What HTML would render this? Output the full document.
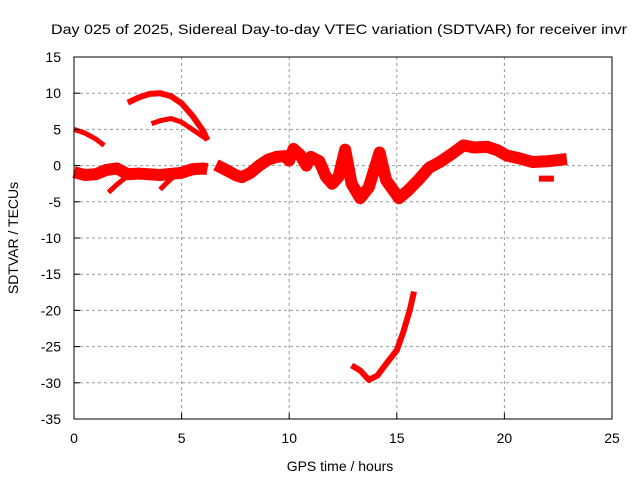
<!DOCTYPE html>
<html><head><meta charset="utf-8"><style>
body{margin:0;background:#fff}
svg{font-family:"Liberation Sans",sans-serif;font-size:14px}
</style></head><body>
<svg width="640" height="480" xmlns="http://www.w3.org/2000/svg">
<rect width="640" height="480" fill="#fff"/>
<g id="grid"></g>
<g id="series"></g>
<rect x="74" y="57" width="538" height="362" fill="none" stroke="#000" stroke-width="1"/>
<g id="ticks"></g>
<text x="51" y="34" textLength="576" lengthAdjust="spacingAndGlyphs">Day 025 of 2025, Sidereal Day-to-day VTEC variation (SDTVAR) for receiver invr</text>
<text x="340" y="471" text-anchor="middle">GPS time / hours</text>
<text transform="translate(18,238) rotate(-90)" text-anchor="middle">SDTVAR / TECUs</text>
</svg>
<script>
const xTicks=[0,5,10,15,20,25];
const yTicks=[15,10,5,0,-5,-10,-15,-20,-25,-30,-35];
const segA_t=[0,0.5,1,1.4];const segA_v=[5.0,4.5,3.7,2.8];
const segB_t=[2.5,3,3.5,4,4.5,5,5.5,6,6.2];const segB_v=[8.7,9.4,9.9,10,9.6,8.6,6.9,4.8,3.5];
const segC_t=[3.6,4,4.5,5,5.5,6,6.2];const segC_v=[5.8,6.2,6.5,6.0,5.0,4.0,3.6];
const main1_t=[0,0.5,1,1.5,2,2.5,3,4,5,5.5,6,6.2];const main1_v=[-0.9,-1.3,-1.2,-0.6,-0.4,-1.2,-1.1,-1.3,-1.0,-0.5,-0.4,-0.5];
const main2_t=[6.6,7,7.5,7.8,8.2,8.6,9,9.4,9.8,10,10.2,10.5,10.8,11,11.4,11.7,12,12.3,12.6,12.9,13.3,13.7,14.2,14.5,15.1,15.5,16,16.5,17,17.5,18.1,18.6,19.2,19.7,20.1,20.7,21.3,22,22.9];
const main2_v=[0.1,-0.5,-1.3,-1.6,-1.0,0,0.8,1.2,1.3,0.7,2.3,1.5,0,1.2,0.6,-1.5,-2.5,-1.5,2.2,-2.5,-4.5,-3,1.8,-2,-4.5,-3.5,-2,-0.3,0.5,1.5,2.8,2.5,2.6,2.1,1.4,1.0,0.5,0.6,0.9];
const segE_t=[1.6,2,2.5];const segE_v=[-3.7,-2.6,-1.4];
const segF_t=[4,4.3,4.6];const segF_v=[-3.3,-2.4,-1.6];
const segH_t=[21.6,22.3];const segH_v=[-1.8,-1.8];
const segG_t=[12.9,13.3,13.7,14.1,14.5,15,15.3,15.6,15.8];const segG_v=[-27.6,-28.3,-29.6,-29,-27.4,-25.5,-23,-20,-17.4];
const X=t=>74+t*538/25, Y=v=>57+(15-v)*362/50;
const NS="http://www.w3.org/2000/svg";
function mk(tag,attrs,parent){const e=document.createElementNS(NS,tag);for(const k in attrs)e.setAttribute(k,attrs[k]);parent.appendChild(e);return e;}
const grid=document.getElementById('grid'),ticks=document.getElementById('ticks'),ser=document.getElementById('series');
xTicks.forEach(t=>{
 if(t>0&&t<25){const l=mk('line',{x1:X(t),x2:X(t),y1:57,y2:419,stroke:'#999','stroke-dasharray':'3,3'},grid);
 
 }
 const tx=mk('text',{x:X(t),y:443,'text-anchor':'middle'},ticks);tx.textContent=t;
 
 
 mk('line',{x1:X(t),x2:X(t),y1:419,y2:413,stroke:'#000'},ticks);
});
yTicks.forEach(v=>{
 if(v<15&&v>-35){const l=mk('line',{x1:74,x2:612,y1:Y(v),y2:Y(v),stroke:'#999','stroke-dasharray':'3,3'},grid);
 
 }
 const tx=mk('text',{x:61,y:Y(v)+5,'text-anchor':'end'},ticks);tx.textContent=v;
 
 
 mk('line',{x1:74,x2:80,y1:Y(v),y2:Y(v),stroke:'#000'},ticks);
});
const segs=[[segA_t,segA_v,5,'segment-early-high'],[segB_t,segB_v,6,'segment-arc-upper'],[segC_t,segC_v,5,'segment-arc-lower'],[main1_t,main1_v,12,'segment-main-early'],[main2_t,main2_v,12,'segment-main'],[segE_t,segE_v,5,'segment-branch-1'],[segF_t,segF_v,5,'segment-branch-2'],[segH_t,segH_v,6,'segment-offset'],[segG_t,segG_v,6,'segment-negative']];
segs.forEach(s=>{
 const pts=s[0].map((t,i)=>X(t)+','+Y(s[1][i])).join(' ');
 const p=mk('polyline',{points:pts,fill:'none',stroke:'#ff0000','stroke-width':s[2],'stroke-linejoin':'round','stroke-linecap':'butt'},ser);
 
 
});
</script>
</body></html>
